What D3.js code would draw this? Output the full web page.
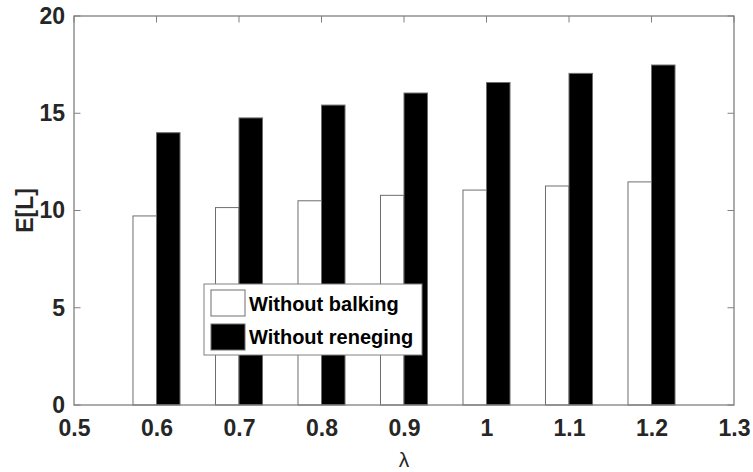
<!DOCTYPE html>
<html>
<head>
  <meta charset="utf-8">
  <title>E[L] vs lambda</title>
  <script src="https://d3js.org/d3.v7.min.js"></script>
  <style>
    body { margin: 0; background: #fff; }
    text { font-family: Arial, "Liberation Sans", sans-serif; }
  </style>
</head>
<body>
  <div id="chart"></div>
  <script>
    // datos
    const lambdas = [0.6, 0.7, 0.8, 0.9, 1.0, 1.1, 1.2];
    const withoutBalking = [9.72, 10.15, 10.5, 10.78, 11.05, 11.26, 11.47];
    const withoutReneging = [14.0, 14.76, 15.42, 16.04, 16.58, 17.05, 17.48];
    const xTicks = [0.5, 0.6, 0.7, 0.8, 0.9, 1, 1.1, 1.2, 1.3];
    const yTicks = [0, 5, 10, 15, 20];
    const seriesNames = ["Without balking", "Without reneging"];

    const W = 753, H = 472;
    const margin = {top: 16, right: 19, bottom: 67, left: 74};
    const width = W - margin.left - margin.right;
    const height = H - margin.top - margin.bottom;

    const svg = d3.select("#chart").append("svg")
      .attr("width", W).attr("height", H);
    const g = svg.append("g")
      .attr("transform", `translate(${margin.left},${margin.top})`);

    const x = d3.scaleLinear().domain([0.5, 1.3]).range([0, width]);
    const y = d3.scaleLinear().domain([0, 20]).range([height, 0]);

    const barW = x(0.5285) - x(0.5); // ancho de cada barra
    const axisColor = "#808080";

    // barras
    g.selectAll("rect.balk").data(lambdas).enter().append("rect")
      .attr("x", (d) => x(d) - barW)
      .attr("y", (d, i) => y(withoutBalking[i]))
      .attr("width", barW)
      .attr("height", (d, i) => y(0) - y(withoutBalking[i]))
      .attr("fill", "#fff")
      .attr("stroke", "#6e6e6e")
      .attr("stroke-width", 1);

    g.selectAll("rect.ren").data(lambdas).enter().append("rect")
      .attr("x", (d) => x(d))
      .attr("y", (d, i) => y(withoutReneging[i]))
      .attr("width", barW)
      .attr("height", (d, i) => y(0) - y(withoutReneging[i]))
      .attr("fill", "#000")
      .attr("stroke", "#6e6e6e")
      .attr("stroke-width", 1);

    // ejes con ticks hacia dentro
    const xAxis = d3.axisBottom(x).tickValues(xTicks).tickSize(0).tickPadding(15)
      .tickFormat(d3.format("~g"));
    const yAxis = d3.axisLeft(y).tickValues(yTicks).tickSize(0).tickPadding(9);

    const gx = g.append("g").attr("transform", `translate(0,${height})`).call(xAxis);
    const gy = g.append("g").call(yAxis);
    [gx, gy].forEach((a) => {
      a.select(".domain").remove();
      a.selectAll("text")
        .attr("fill", "#262626")
        .style("font-size", "23px")
        .style("font-weight", "bold");
    });

    // ticks interiores
    g.selectAll("line.tx").data(xTicks).enter().append("line")
      .attr("x1", (d) => x(d)).attr("x2", (d) => x(d))
      .attr("y1", 0).attr("y2", 6.5)
      .attr("stroke", axisColor);
    g.selectAll("line.ty").data(yTicks).enter().append("line")
      .attr("x1", 0).attr("x2", 6.5)
      .attr("y1", (d) => y(d)).attr("y2", (d) => y(d))
      .attr("stroke", axisColor);
    g.selectAll("line.ty2").data(yTicks).enter().append("line")
      .attr("x1", width - 6.5).attr("x2", width)
      .attr("y1", (d) => y(d)).attr("y2", (d) => y(d))
      .attr("stroke", axisColor);

    // caja
    g.append("rect")
      .attr("x", 0).attr("y", 0)
      .attr("width", width).attr("height", height)
      .attr("fill", "none")
      .attr("stroke", axisColor)
      .attr("stroke-width", 1.3);

    // etiquetas de ejes
    svg.append("text")
      .attr("x", margin.left + width / 2).attr("y", 467)
      .attr("text-anchor", "middle")
      .attr("fill", "#262626")
      .style("font-size", "21px")
      .text("λ");

    svg.append("text")
      .attr("transform", `translate(33,${margin.top + height / 2}) rotate(-90)`)
      .attr("text-anchor", "middle")
      .attr("fill", "#262626")
      .style("font-size", "23px")
      .style("font-weight", "bold")
      .text("E[L]");

    // leyenda
    const legend = svg.append("g").attr("transform", "translate(204,284)");
    legend.append("rect")
      .attr("width", 218).attr("height", 71)
      .attr("fill", "#fff")
      .attr("stroke", "#808080");
    const fills = ["#fff", "#000"];
    seriesNames.forEach((name, i) => {
      legend.append("rect")
        .attr("x", 7).attr("y", 6 + i * 34)
        .attr("width", 34).attr("height", 26)
        .attr("fill", fills[i])
        .attr("stroke", "#6e6e6e");
      legend.append("text")
        .attr("x", 45).attr("y", 27 + i * 33)
        .attr("fill", "#000")
        .style("font-size", "20px")
        .style("font-weight", "bold")
        .text(name);
    });
  </script>
</body>
</html>
